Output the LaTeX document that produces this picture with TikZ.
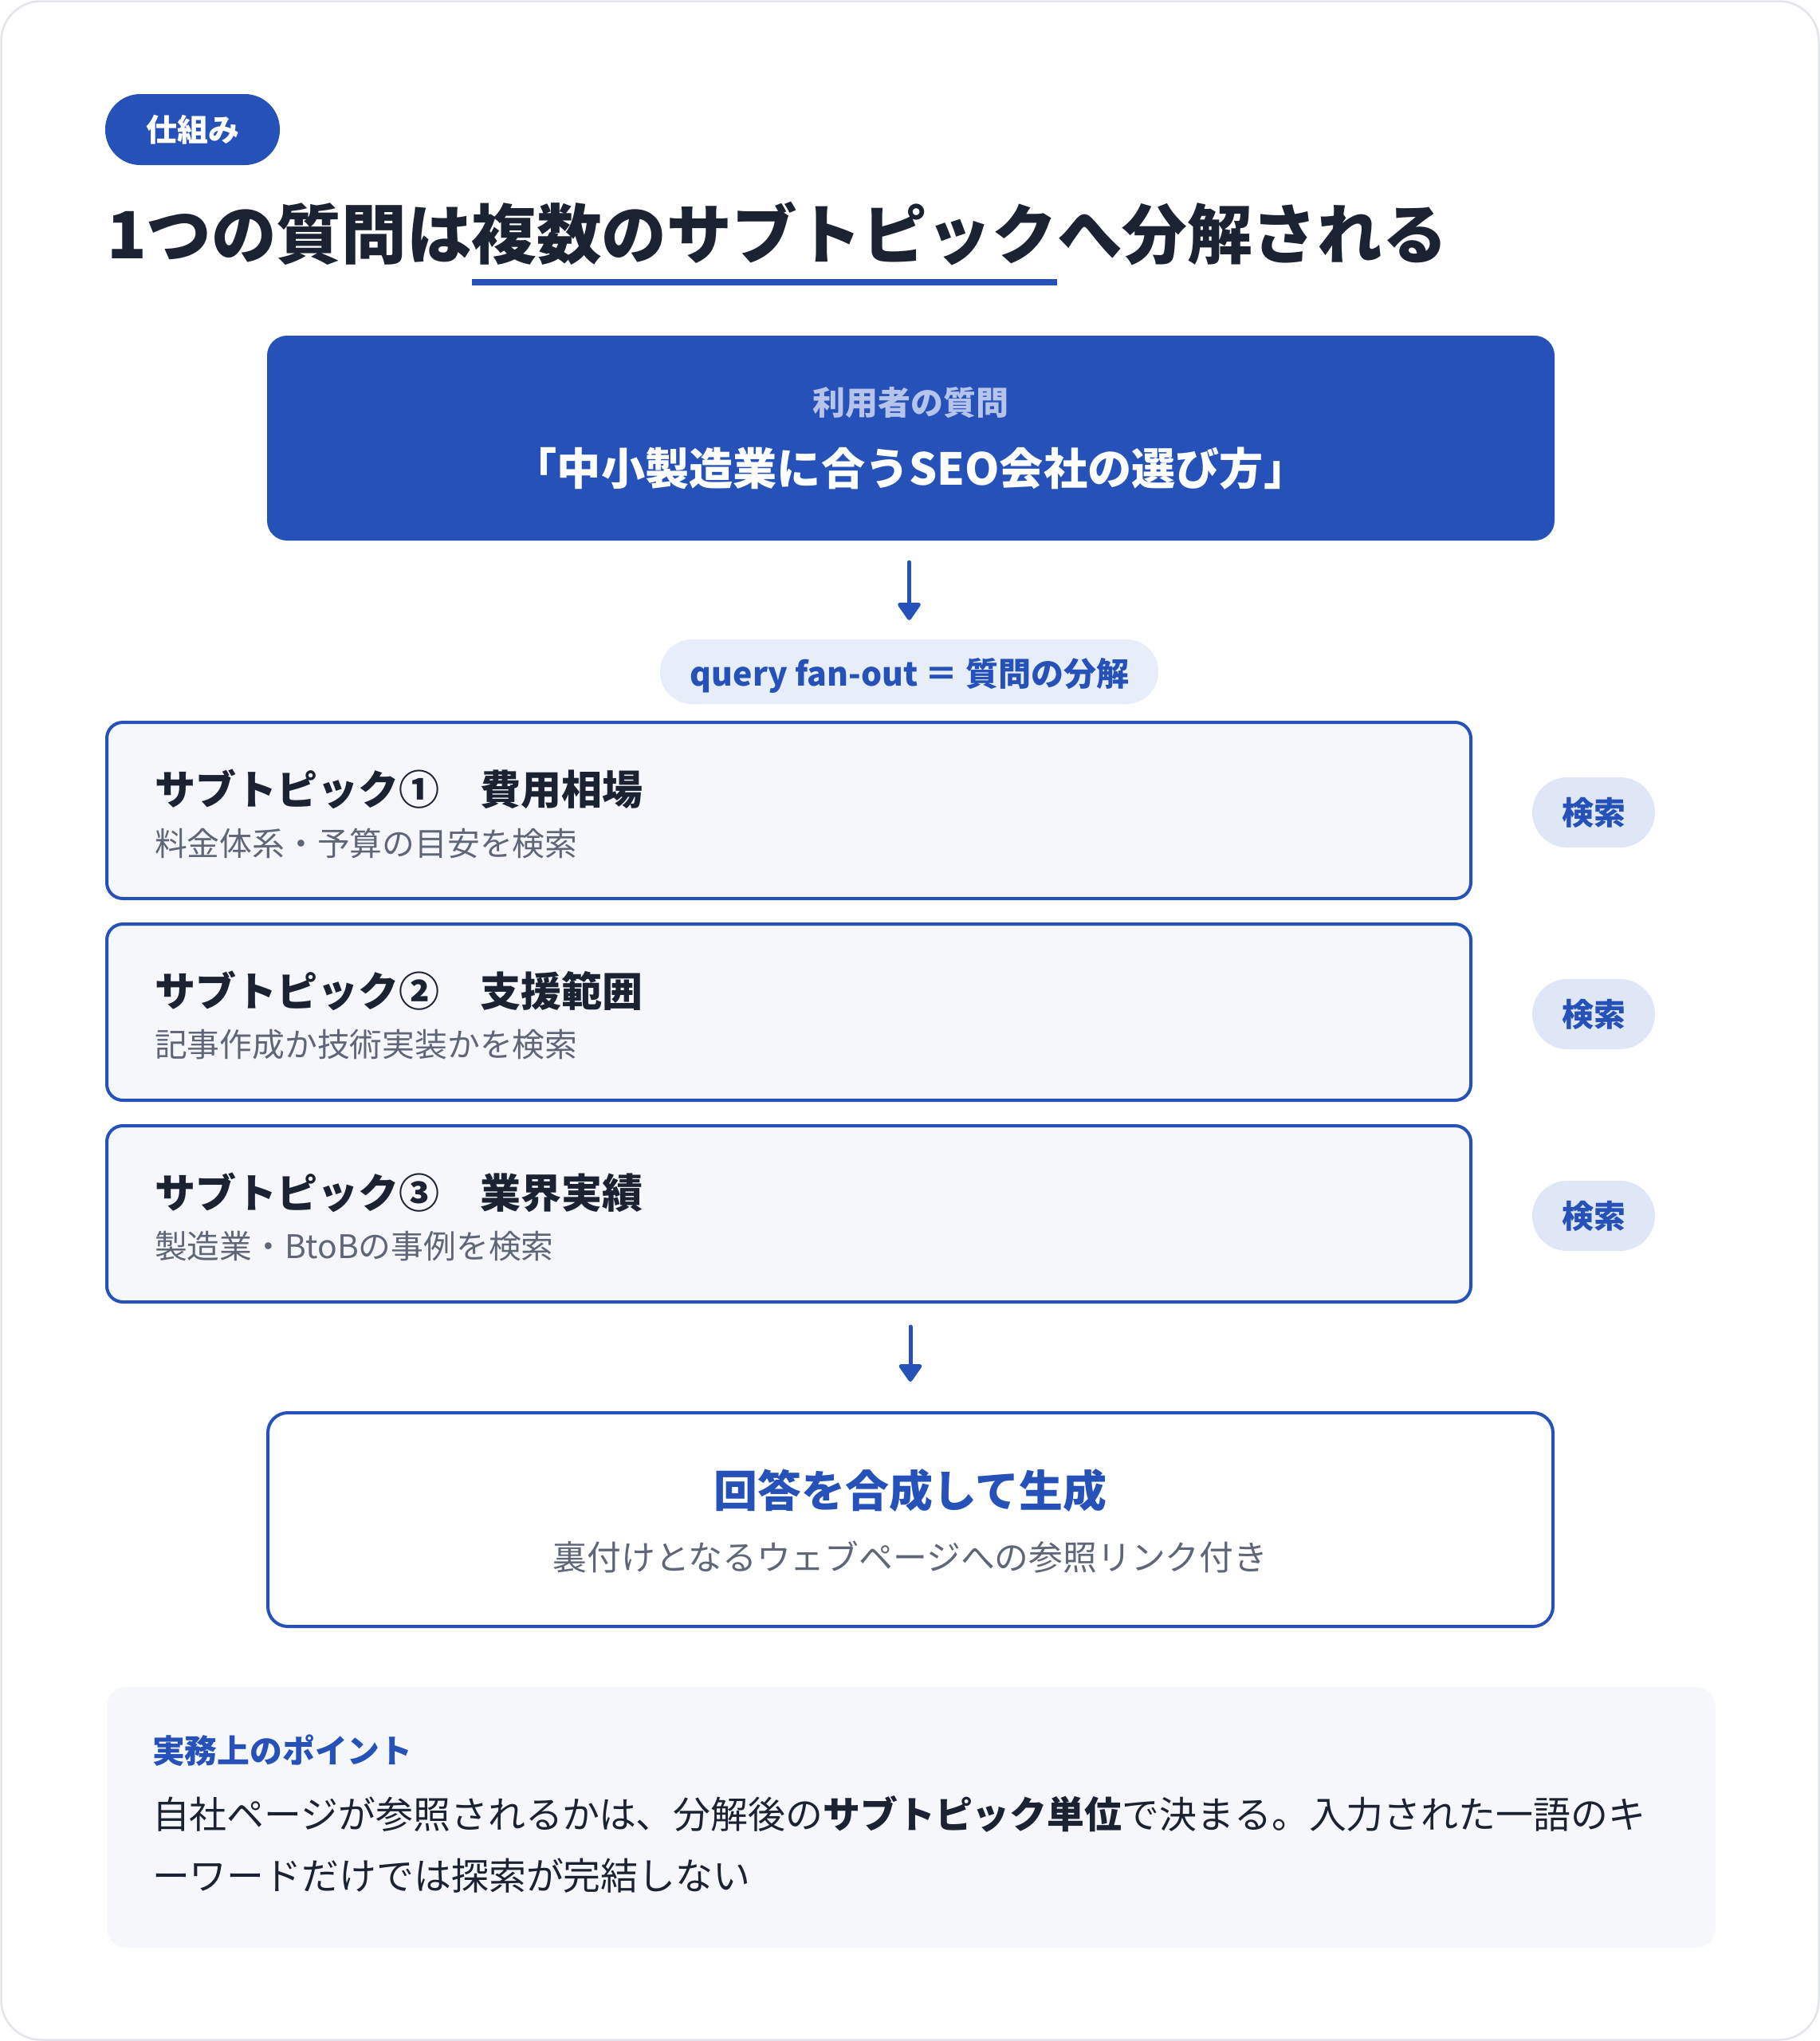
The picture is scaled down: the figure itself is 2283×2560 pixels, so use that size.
\documentclass[tikz,border=0pt]{standalone}
\usepackage{fontspec}
\setmainfont{Noto Sans CJK JP}
\usetikzlibrary{arrows.meta,calc}
\definecolor{brand}{HTML}{2651B9}
\definecolor{ink}{HTML}{1B2333}
\definecolor{muted}{HTML}{5F6677}
\definecolor{boxbg}{HTML}{F5F7FB}
\definecolor{fanbg}{HTML}{E7EDF9}
\definecolor{pillbg}{HTML}{DFE6F5}
\definecolor{qlabel}{HTML}{B6C4EB}
\definecolor{frame}{HTML}{E2E5EA}
\newcommand\fsz[2]{\fontsize{#1}{#2}\selectfont}
\begin{document}
\begin{tikzpicture}[x=1pt,y=-1pt,
  txt/.style={inner sep=0pt,outer sep=0pt},
  subbox/.style={draw=brand,line width=4pt,fill=boxbg,rounded corners=20pt,minimum width=1711pt,minimum height=221pt,inner sep=0pt},
  searchpill/.style={fill=pillbg,rounded corners=44pt,minimum width=154pt,minimum height=88pt,inner sep=0pt,text=brand,font=\fsz{40}{48}\bfseries},
  subtitle/.style={txt,anchor=west,text=ink,font=\fsz{51}{60}\bfseries},
  subdesc/.style={txt,anchor=west,text=muted,font=\fsz{40.8}{48}},
  flowarrow/.style={draw=brand,line width=5pt,line cap=round,-{Triangle[length=24pt,width=32pt,round]}}
]
\useasboundingbox (0,0) rectangle (2283,2560);
% outer card
\draw[frame,line width=2.5pt,fill=white,rounded corners=50pt] (1.5,1.5) rectangle (2281.5,2558.5);

% badge
\node[fill=brand,rounded corners=44pt,minimum width=219pt,minimum height=89pt,inner sep=0pt,text=white,font=\fsz{39}{46}\bfseries] (badge) at (241.5,162.5) {仕組み};

% title
\node[txt,anchor=west,text=ink,font=\fsz{81.6}{98}\bfseries] (t1) at (134,294) {1つの質問は};
\node[txt,anchor=base west,text=ink,font=\fsz{81.6}{98}\bfseries] (t2) at (t1.base east) {複数のサブトピック};
\node[txt,anchor=base west,text=ink,font=\fsz{81.6}{98}\bfseries] (t3) at (t2.base east) {へ分解される};
\fill[brand] ($(t2.base west)+(0,25)$) rectangle ($(t2.base east)+(0,33)$);

% question box
\node[fill=brand,rounded corners=25pt,minimum width=1615pt,minimum height=257pt,inner sep=0pt] (q) at (1142.5,549.5) {};
\node[txt,text=qlabel,font=\fsz{41}{48}\bfseries] (qlab) at (1142,505) {利用者の質問};
\node[txt,text=white,font=\fsz{55.2}{66}\bfseries] (qtext) at (1142,588) {「中小製造業に合うSEO会社の選び方」};

% fan-out pill
\node[fill=fanbg,rounded corners=40pt,minimum width=625pt,minimum height=81pt,inner sep=0pt] (fan) at (1140.5,842.5) {};
\node[txt,text=brand,font=\fsz{41}{50}\bfseries] (fantext) at (1141,847) {query fan-out ＝ 質問の分解};
\draw[flowarrow,shorten <=27pt,shorten >=24pt] (q.south -| fan.north) -- (fan.north);

% subtopics
\node[subbox] (s1) at (989.5,1016.5) {};
\node[subbox] (s2) at (989.5,1269.5) {};
\node[subbox] (s3) at (989.5,1522.5) {};
\node[subtitle] (s1t) at (194,990) {サブトピック①　費用相場};
\node[subdesc] (s1d) at (194,1058) {料金体系・予算の目安を検索};
\node[subtitle] (s2t) at (194,1243) {サブトピック②　支援範囲};
\node[subdesc] (s2d) at (194,1310) {記事作成か技術実装かを検索};
\node[subtitle] (s3t) at (194,1496) {サブトピック③　業界実績};
\node[subdesc] (s3d) at (194,1563) {製造業・BtoBの事例を検索};
\node[searchpill] (k1) at (1999,1019) {検索};
\node[searchpill] (k2) at (1999,1272) {検索};
\node[searchpill] (k3) at (1999,1525) {検索};

% final box
\node[draw=brand,line width=4pt,fill=white,rounded corners=25pt,minimum width=1612pt,minimum height=268pt,inner sep=0pt] (fin) at (1142,1906) {};
\node[txt,text=brand,font=\fsz{54.9}{64}\bfseries] (fint) at (1142,1870) {回答を合成して生成};
\node[txt,text=muted,font=\fsz{42.8}{50}] (find) at (1142,1953) {裏付けとなるウェブページへの参照リンク付き};
\draw[flowarrow,shorten <=29pt,shorten >=37pt] (s3.south -| fin.north) -- (fin.north);

% note box
\node[fill=boxbg,rounded corners=25pt,minimum width=2018pt,minimum height=327pt,inner sep=0pt] (note) at (1143,2279.5) {};
\node[txt,anchor=west,text=brand,font=\fsz{40.8}{48}\bfseries] (notet) at (191,2196) {実務上のポイント};
\node[txt,anchor=north west,text=ink,align=left,font=\fsz{46.9}{77}] (noteb) at (191,2252) {自社ページが参照されるかは、分解後の\textbf{サブトピック単位}で決まる。入力された一語のキ\\ーワードだけでは探索が完結しない};
\end{tikzpicture}
\end{document}
